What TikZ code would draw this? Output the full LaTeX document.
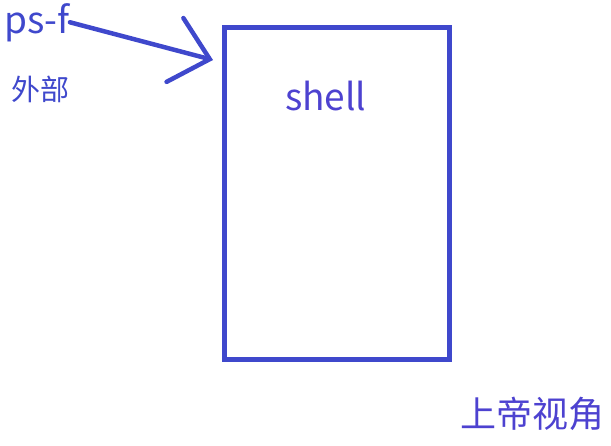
\documentclass[tikz,border=0pt]{standalone}
\usepackage{fontspec}
\setmainfont{Noto Sans CJK SC}
\usetikzlibrary{arrows.meta,positioning}
\definecolor{penblue}{HTML}{3F48CC}
\definecolor{inkpurple}{HTML}{4D42D0}

\begin{document}
\begin{tikzpicture}[x=1pt,y=-1pt,
  label/.style={inner sep=0pt,text=penblue},
  title/.style={label,text=inkpurple},
  frame/.style={draw=penblue,line width=4.5pt,outer sep=0pt},
  pen/.style={-{Straight Barb[length=36pt,width=66pt,line cap=round]},
    draw=penblue,line width=4.5pt,line cap=round}]
\useasboundingbox (0,0) rectangle (611,445);
\node[label,anchor=base west,font=\fontsize{37}{40}\selectfont] (psf) at (4,33) {ps-f};
\node[label,font=\fontsize{29}{32}\selectfont] (outer) at (41,89) {外部};
\node[frame,minimum width=225pt,minimum height=332pt,anchor=north west] (shellbox) at (224.5,27.5) {};
\node[title,anchor=base west,font=\fontsize{37}{42}\selectfont] (shell) at (285,110) {shell};
\node[title,font=\fontsize{36}{38}\selectfont] (god) at (532,414) {上帝视角};

\coordinate (tip) at (213,60);
\draw[pen] (psf.east)--(tip);
\end{tikzpicture}
\end{document}
